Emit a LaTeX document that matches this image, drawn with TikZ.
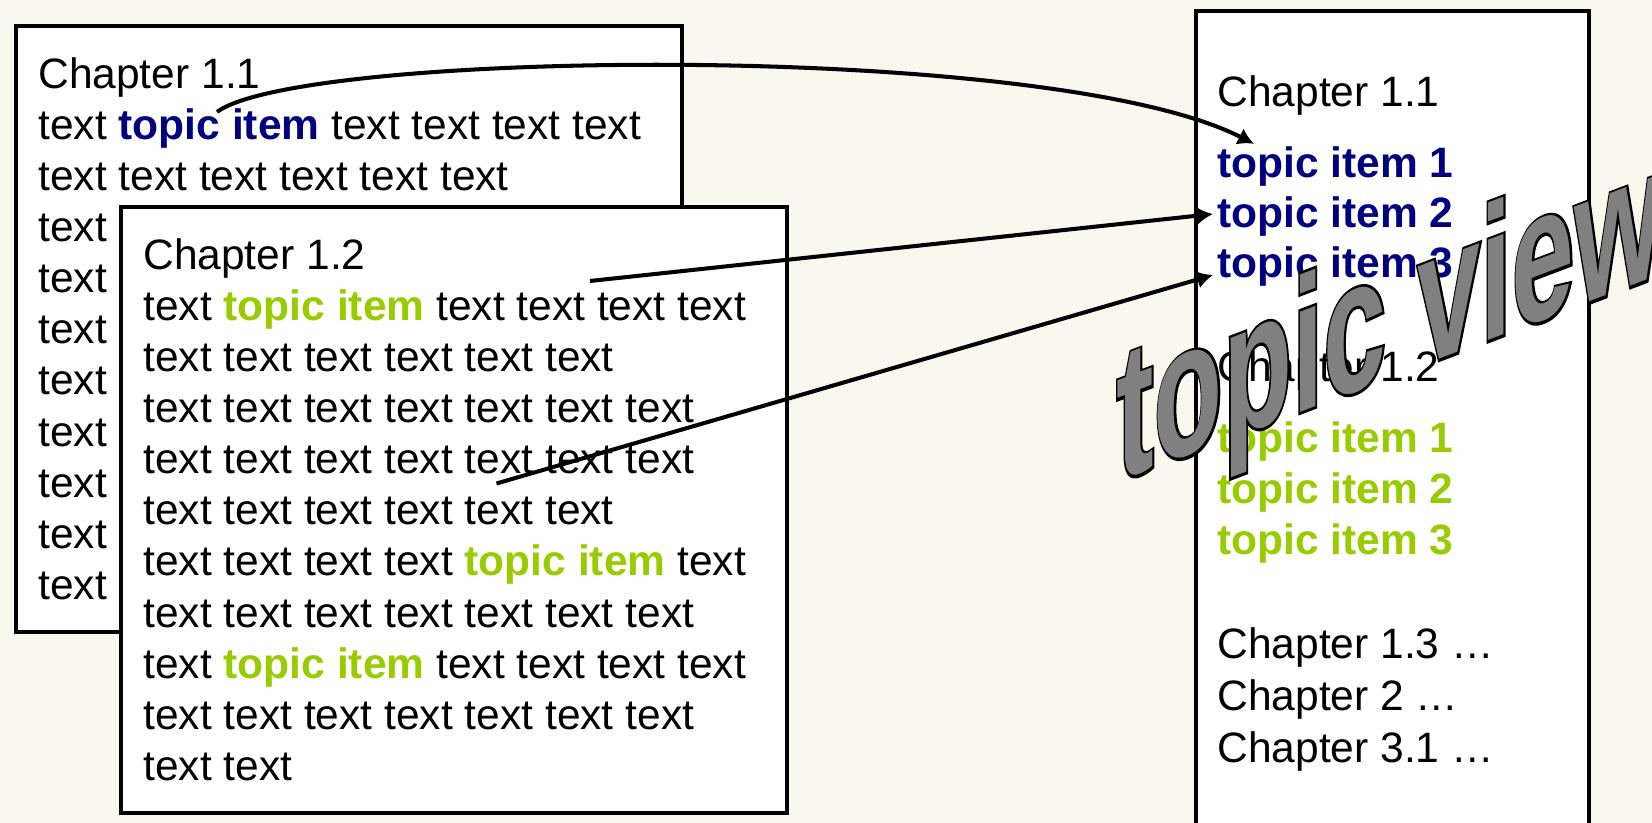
\documentclass[tikz,border=0pt]{standalone}
\usepackage{fontspec}
\setmainfont{Liberation Sans}
\newfontfamily\wordartfont{Liberation Sans}[BoldFeatures={FakeBold=3}]
\usepackage{tikz}
\usetikzlibrary{arrows.meta,positioning}
\definecolor{paper}{HTML}{F8F8EF}
\definecolor{topicblue}{HTML}{000080}
\definecolor{topicgreen}{HTML}{99CC00}
\definecolor{wordgray}{HTML}{808080}
\newcommand{\bodyfont}{\fontsize{24.2}{29.1}\selectfont}
\tikzstyle{pagebox} = [draw, line width=2.5pt, fill=white, minimum width=13.32cm, minimum height=12.12cm, inner sep=0pt, anchor=north west]
\tikzstyle{viewbox} = [draw, line width=2.5pt, fill=white, minimum width=7.86cm, minimum height=17cm, inner sep=0pt, anchor=north west]
\tikzstyle{pagetext} = [anchor=north west, inner sep=0pt, align=left, font=\bodyfont]
\tikzstyle{viewline} = [anchor=base west, inner sep=0pt, font=\bodyfont]
\tikzstyle{arrow} = [draw, line width=2.3pt, -{Latex[length=3.2mm,width=3.6mm]}]
\tikzstyle{wordart} = [anchor=base west, inner sep=0pt, yslant=0.38, yscale=1.68]
\tikzstyle{wordartedge} = [wordart, text=black, font={\wordartfont\bfseries\fontsize{64.3}{70}\selectfont}]
\tikzstyle{wordartfill} = [wordart, text=wordgray, font={\bfseries\fontsize{64.3}{70}\selectfont}]
\newcommand{\pagebox}[2]{node (b#1) [pagebox] {#2}}
\newcommand{\pagetext}[2]{node (t#1) [pagetext] {#2}}
\newcommand{\viewline}[2]{node (v#1) [viewline] {#2}}
\newcommand{\bluetopic}[1]{{\bfseries\color{topicblue}#1}}
\newcommand{\greentopic}[1]{{\bfseries\color{topicgreen}#1}}
\begin{document}
\begin{tikzpicture}
\useasboundingbox (0,0) rectangle (33.04,-16.46);
\fill[paper] (0,0) rectangle (33.04,-16.46);
\clip (0,0) rectangle (33.04,-16.46);

% first page
\path (0.28,-0.48) \pagebox{1}{};
\path (b1.north west)+(0.48,-0.66) \pagetext{1}{Chapter 1.1\\text \bluetopic{topic item} text text text text\\text text text text text text\\text\\text\\text\\text\\text\\text\\text\\text};

% second page
\path (b1.north west)+(2.1,-3.62) \pagebox{2}{};
\path (b2.north west)+(0.48,-0.66) \pagetext{2}{Chapter 1.2\\text \greentopic{topic item} text text text text\\text text text text text text\\text text text text text text text\\text text text text text text text\\text text text text text text\\text text text text \greentopic{topic item} text\\text text text text text text text\\text \greentopic{topic item} text text text text\\text text text text text text text\\text text};

% topic view
\path (23.88,-0.18) node (b3) [viewbox] {};
\path (b3.north west)+(0.46,-1.96) \viewline{1}{Chapter 1.1};
\path (v1.base west)+(0,-1.42) \viewline{2}{\bluetopic{topic item 1}};
\path (v2.base west)+(0,-1.0) \viewline{3}{\bluetopic{topic item 2}};
\path (v3.base west)+(0,-1.0) \viewline{4}{\bluetopic{topic item 3}};
\path (v4.base west)+(0,-2.08) \viewline{5}{Chapter 1.2};
\path (v5.base west)+(0,-1.42) \viewline{6}{\greentopic{topic item 1}};
\path (v6.base west)+(0,-1.02) \viewline{7}{\greentopic{topic item 2}};
\path (v7.base west)+(0,-1.0) \viewline{8}{\greentopic{topic item 3}};
\path (v8.base west)+(0,-2.08) \viewline{9}{Chapter 1.3 …};
\path (v9.base west)+(0,-1.04) \viewline{10}{Chapter 2 …};
\path (v10.base west)+(0,-1.04) \viewline{11}{Chapter 3.1 …};

% links
\coordinate (s1) at (4.34,-2.24);
\coordinate (s2) at (11.8,-5.62);
\coordinate (s3) at (9.93,-9.67);
\path [arrow] (s1) .. controls (6,-1) and (21,-0.8) .. ([shift={(0.74,0.06)}]v2.north west);
\path [arrow] (s2) -- ([xshift=-0.08cm,yshift=0.06cm]v3.west);
\path [arrow] (s3) -- ([xshift=-0.08cm,yshift=-0.16cm]v4.west);

% word art
\path (22.32,-9.64) node (w1) [wordartedge] {topic view};
\path (w1.base west) node (w2) [wordartfill] {topic view};
\end{tikzpicture}
\end{document}
